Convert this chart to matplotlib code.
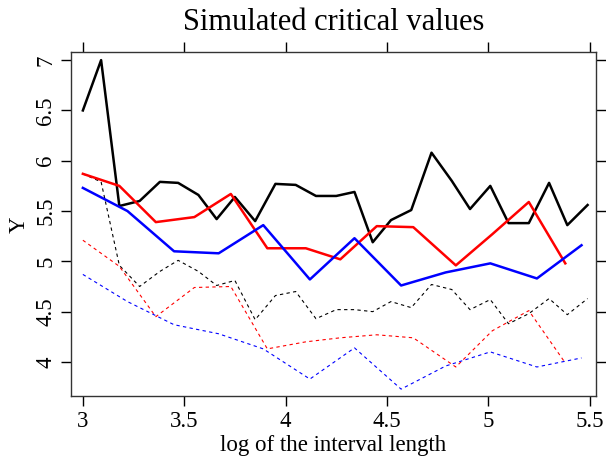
import matplotlib
matplotlib.use("Agg")
import matplotlib.pyplot as plt

plt.rcParams['font.family'] = ['Liberation Serif', 'DejaVu Serif']

# fine grid (black lines)
x_fine = [3.00, 3.09, 3.18, 3.28, 3.38, 3.47, 3.57, 3.66, 3.75, 3.85, 3.95, 4.05, 4.15, 4.25,
          4.34, 4.43, 4.52, 4.62, 4.72, 4.82, 4.91, 5.01, 5.10, 5.20, 5.30, 5.39, 5.49]
black_solid = [6.50, 7.00, 5.55, 5.60, 5.79, 5.78, 5.66, 5.42, 5.64, 5.40, 5.77, 5.76, 5.65, 5.65,
               5.69, 5.19, 5.41, 5.51, 6.08, 5.80, 5.52, 5.75, 5.38, 5.38, 5.78, 5.36, 5.56]
black_dash = [5.87, 5.79, 4.96, 4.75, 4.90, 5.01, 4.90, 4.76, 4.81, 4.42, 4.66, 4.70, 4.43, 4.52,
              4.52, 4.50, 4.60, 4.54, 4.77, 4.72, 4.52, 4.62, 4.38, 4.48, 4.63, 4.47, 4.63]

# medium grid (red lines)
x_mid = [3.00, 3.18, 3.36, 3.55, 3.73, 3.91, 4.10, 4.27, 4.45, 4.63, 4.84, 5.02, 5.20, 5.38]
red_solid = [5.87, 5.75, 5.39, 5.44, 5.67, 5.13, 5.13, 5.02, 5.35, 5.34, 4.96, 5.27, 5.59, 4.98]
red_dash = [5.21, 4.95, 4.45, 4.74, 4.75, 4.13, 4.20, 4.24, 4.27, 4.24, 3.95, 4.31, 4.51, 3.99]

# coarse grid (blue lines)
x_coarse = [3.00, 3.22, 3.45, 3.67, 3.89, 4.12, 4.34, 4.57, 4.79, 5.01, 5.24, 5.46]
blue_solid = [5.73, 5.50, 5.10, 5.08, 5.36, 4.82, 5.23, 4.76, 4.89, 4.98, 4.83, 5.16]
blue_dash = [4.87, 4.60, 4.37, 4.28, 4.13, 3.83, 4.14, 3.73, 3.96, 4.10, 3.95, 4.04]

xticks = [3, 3.5, 4, 4.5, 5, 5.5]
yticks = [4, 4.5, 5, 5.5, 6, 6.5, 7]

fig = plt.figure(figsize=(6.06, 4.61), dpi=100)
ax = fig.add_axes([0.117, 0.140, 0.866, 0.747])

dash = (0, (3, 3))
ax.plot(x_fine, black_dash, color='black', lw=0.8, linestyle=dash)
ax.plot(x_mid, red_dash, color='red', lw=0.8, linestyle=dash)
ax.plot(x_coarse, blue_dash, color='blue', lw=0.8, linestyle=dash)
ax.plot(x_fine, black_solid, color='black', lw=1.8)
ax.plot(x_mid, red_solid, color='red', lw=1.8)
ax.plot(x_coarse, blue_solid, color='blue', lw=1.8)

ax.set_xlim(2.941, 5.53)
ax.set_ylim(3.657, 7.08)
ax.set_xticks(xticks)
ax.set_xticklabels(['3', '3.5', '4', '4.5', '5', '5.5'])
ax.set_yticks(yticks)
ax.set_yticklabels(['4', '4.5', '5', '5.5', '6', '6.5', '7'], rotation=90, va='center')
ax.tick_params(direction='out', length=7, width=1, labelsize=16.5,
               top=True, right=True, labeltop=False, labelright=False)
for s in ax.spines.values():
    s.set_linewidth(1)
    s.set_color('#333333')

ax.set_title('Simulated critical values', fontsize=22, pad=16)
ax.set_xlabel('log of the interval length', fontsize=16.5, labelpad=2)
ax.set_ylabel('Y', fontsize=16.5, labelpad=4)

fig.savefig('out.png', dpi=100)
